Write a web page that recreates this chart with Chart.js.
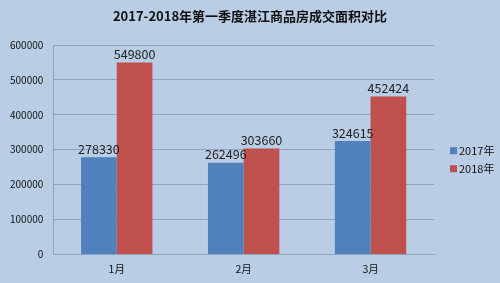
<!DOCTYPE html>
<html>
<head>
<meta charset="utf-8">
<script src="https://cdn.jsdelivr.net/npm/chart.js@4"></script>
<style>
  html, body { margin: 0; padding: 0; background: #b9cde5; }
  #wrap { width: 500px; height: 283px; position: relative; }
</style>
</head>
<body>
<div id="wrap"><canvas id="c" width="500" height="283"></canvas></div>
<script>
  var months = ['1月', '2月', '3月'];
  var area2017 = [278330, 262496, 324615];
  var area2018 = [549800, 303660, 452424];
  var yTicks = [0, 100000, 200000, 300000, 400000, 500000, 600000];
  var chartTitle = '2017-2018年第一季度湛江商品房成交面积对比';

  var FONT = '"Noto Sans CJK SC", "DejaVu Sans", sans-serif';

  // value labels above each bar
  var barLabels = {
    id: 'barLabels',
    afterDatasetsDraw: function(chart) {
      var ctx = chart.ctx;
      ctx.save();
      ctx.font = '12.5px ' + FONT;
      ctx.fillStyle = '#222';
      ctx.textAlign = 'center';
      ctx.textBaseline = 'bottom';
      chart.data.datasets.forEach(function(ds, i) {
        chart.getDatasetMeta(i).data.forEach(function(bar, j) {
          ctx.fillText(String(ds.data[j]), bar.x, bar.y - 2);
        });
      });
      ctx.restore();
    }
  };

  // title centred on the whole canvas, legend to the right of the plot
  var frame = {
    id: 'frame',
    afterDraw: function(chart) {
      var ctx = chart.ctx, a = chart.chartArea;
      ctx.save();
      ctx.font = 'bold 13px ' + FONT;
      ctx.fillStyle = '#111';
      ctx.textAlign = 'center';
      ctx.textBaseline = 'middle';
      ctx.fillText(chartTitle, chart.width / 2, 16);

      var x = a.right + 16, y = (a.top + a.bottom) / 2 + 1;
      ctx.font = '11px ' + FONT;
      ctx.textAlign = 'left';
      chart.data.datasets.forEach(function(ds, i) {
        var yy = y + i * 18;
        ctx.fillStyle = ds.backgroundColor;
        ctx.fillRect(x, yy - 3.5, 7, 7);
        ctx.fillStyle = '#111';
        ctx.fillText(ds.label, x + 9, yy);
      });
      ctx.restore();
    }
  };

  new Chart(document.getElementById('c'), {
    type: 'bar',
    data: {
      labels: months,
      datasets: [
        { label: '2017年', data: area2017, backgroundColor: '#4f81bd' },
        { label: '2018年', data: area2018, backgroundColor: '#c0504d' }
      ]
    },
    options: {
      responsive: false,
      animation: false,
      layout: { padding: { left: 0, right: 66, top: 45, bottom: 0 } },
      datasets: { bar: { categoryPercentage: 0.5625, barPercentage: 1 } },
      plugins: {
        title: { display: false },
        legend: { display: false },
        tooltip: { enabled: false }
      },
      scales: {
        x: {
          grid: { display: false, drawTicks: false },
          border: { color: '#8ea3bd' },
          ticks: { color: '#111', font: { family: FONT, size: 10.5 }, padding: 8 }
        },
        y: {
          min: 0, max: 600000,
          afterBuildTicks: function(axis) {
            axis.ticks = yTicks.map(function(v) { return { value: v }; });
          },
          grid: { color: '#8ea3bd', drawTicks: false },
          border: { color: '#8ea3bd' },
          ticks: {
            color: '#111', font: { family: FONT, size: 10 }, padding: 10,
            callback: function(v) { return String(v); }
          }
        }
      }
    },
    plugins: [barLabels, frame]
  });
</script>
</body>
</html>
